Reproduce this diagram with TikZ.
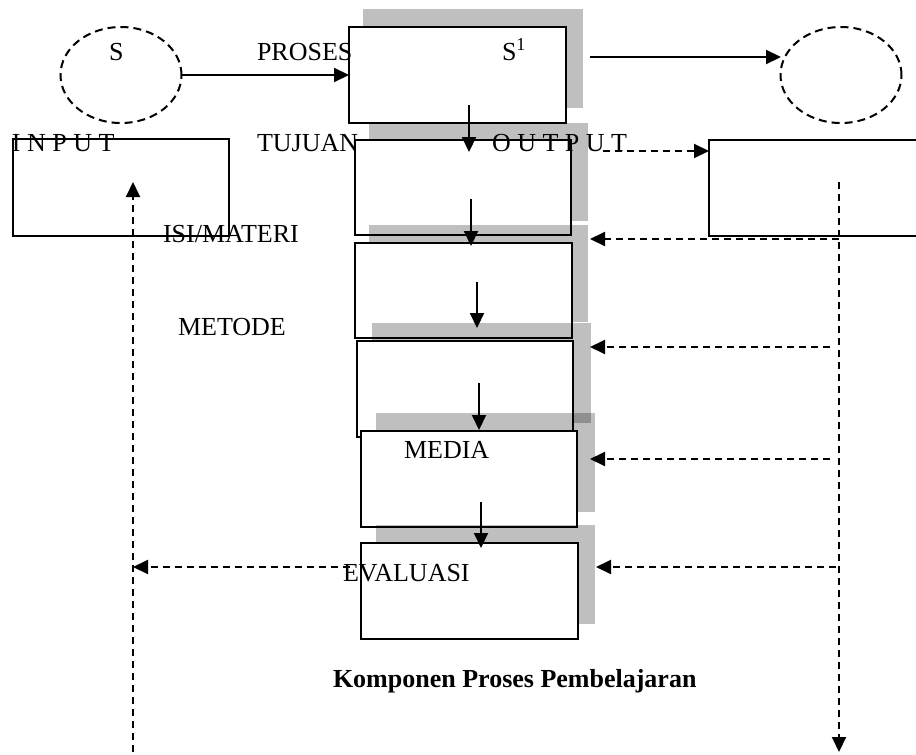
\documentclass[tikz,border=0pt]{standalone}
\usepackage{fontspec}
\setmainfont{Liberation Serif}
\usetikzlibrary{arrows.meta,shapes.geometric}
\tikzset{
  box/.style={draw, rectangle, line width=2pt, fill=white, inner sep=0pt, outer sep=0pt},
  shadowbox/.style={rectangle, fill=black, fill opacity=0.25, draw=none, inner sep=0pt, outer sep=0pt},
  oval/.style={draw, ellipse, line width=2pt, dash pattern=on 8pt off 5pt, inner sep=0pt, outer sep=0pt, minimum width=121pt, minimum height=96pt},
  lbl/.style={inner sep=0pt, outer sep=0pt, anchor=base west, font=\fontsize{26}{30}\selectfont},
  arr/.style={line width=2.1pt, -{Triangle[length=15pt,width=14pt]}},
  darr/.style={line width=2pt, dash pattern=on 7pt off 5pt, -{Triangle[length=15pt,width=14pt]}},
}
\begin{document}
\begin{tikzpicture}[x=1pt,y=-1pt]
\clip (0,0) rectangle (916,755);
\fill[white] (0,0) rectangle (916,755);

% ovals
\node[oval] (EL) at (121,75) {};
\node[oval] (ER) at (841,75) {};

% input / output boxes
\node[box, minimum width=216pt, minimum height=97pt] (IB) at (121,187.5) {};
\node[box, minimum width=216pt, minimum height=96pt] (OB) at (817,188) {};

% central stack with shadows
\node[shadowbox, minimum width=220pt, minimum height=99pt] (S1) at (473,58.5) {};
\node[box, minimum width=217pt, minimum height=96pt] (B1) at (457.5,75) {};
\node[shadowbox, minimum width=219pt, minimum height=98pt] (S2) at (478.5,172) {};
\node[box, minimum width=216pt, minimum height=95pt] (B2) at (463,187.5) {};
\node[shadowbox, minimum width=219pt, minimum height=97pt] (S3) at (478.5,273.5) {};
\node[box, minimum width=217pt, minimum height=95pt] (B3) at (463.5,290.5) {};
\node[shadowbox, minimum width=219pt, minimum height=100pt] (S4) at (481.5,373) {};
\node[box, minimum width=216pt, minimum height=96pt] (B4) at (465,389) {};
\node[shadowbox, minimum width=219pt, minimum height=99pt] (S5) at (485.5,462.5) {};
\node[box, minimum width=216pt, minimum height=96pt] (B5) at (469,479) {};
\node[shadowbox, minimum width=219pt, minimum height=99pt] (S6) at (485.5,574.5) {};
\node[box, minimum width=217pt, minimum height=96pt] (B6) at (469.5,591) {};

% coordinates for connector ends
\coordinate (s1out) at (590,57);
\coordinate (erin) at (781,57);
\coordinate (outstart) at (603,151);
\coordinate (outend) at (709,151);
\coordinate (a1s) at (469,105); \coordinate (a1e) at (469,152);
\coordinate (a2s) at (471,199); \coordinate (a2e) at (471,246);
\coordinate (a3s) at (477,282); \coordinate (a3e) at (477,328);
\coordinate (a4s) at (479,383); \coordinate (a4e) at (479,430);
\coordinate (a5s) at (481,502); \coordinate (a5e) at (481,548);
\coordinate (rtop) at (839,182); \coordinate (rbot) at (839,752);
\coordinate (r1) at (839,239); \coordinate (f1) at (590,239);
\coordinate (r2) at (830,347); \coordinate (f2) at (590,347);
\coordinate (r3) at (830,459); \coordinate (f3) at (590,459);
\coordinate (r4) at (836,567); \coordinate (f4) at (596,567);
\coordinate (lbot) at (133,752); \coordinate (ltop) at (133,182);
\coordinate (evs) at (350,567); \coordinate (eve) at (133,567);

% solid arrows
\draw[arr] (EL.east) -- (B1.west);
\draw[arr] (s1out) -- (erin);
\draw[arr] (a1s) -- (a1e);
\draw[arr] (a2s) -- (a2e);
\draw[arr] (a3s) -- (a3e);
\draw[arr] (a4s) -- (a4e);
\draw[arr] (a5s) -- (a5e);

% dashed arrows
\draw[darr] (outstart) -- (outend);
\draw[darr] (rtop) -- (rbot);
\draw[darr] (r1) -- (f1);
\draw[darr] (r2) -- (f2);
\draw[darr] (r3) -- (f3);
\draw[darr] (r4) -- (f4);
\draw[darr] (lbot) -- (ltop);
\draw[darr] (evs) -- (eve);

% labels
\node[lbl] (tS) at (109,60) {S};
\node[lbl] (tProses) at (257,60) {PROSES};
\node[lbl] (tS1) at (502,60) {S\textsuperscript{1}};
\node[lbl] (tInput) at (12,151) {I N P U T};
\node[lbl] (tTujuan) at (257,151) {TUJUAN};
\node[lbl] (tOutput) at (492,151) {O U T P U T};
\node[lbl] (tIsi) at (163,242) {ISI/MATERI};
\node[lbl] (tMetode) at (178,335) {METODE};
\node[lbl] (tMedia) at (404,458) {MEDIA};
\node[lbl] (tEval) at (343,581) {EVALUASI};
\node[lbl, font=\fontsize{26}{30}\selectfont\bfseries] (tCap) at (333,687) {Komponen Proses Pembelajaran};
\end{tikzpicture}
\end{document}
